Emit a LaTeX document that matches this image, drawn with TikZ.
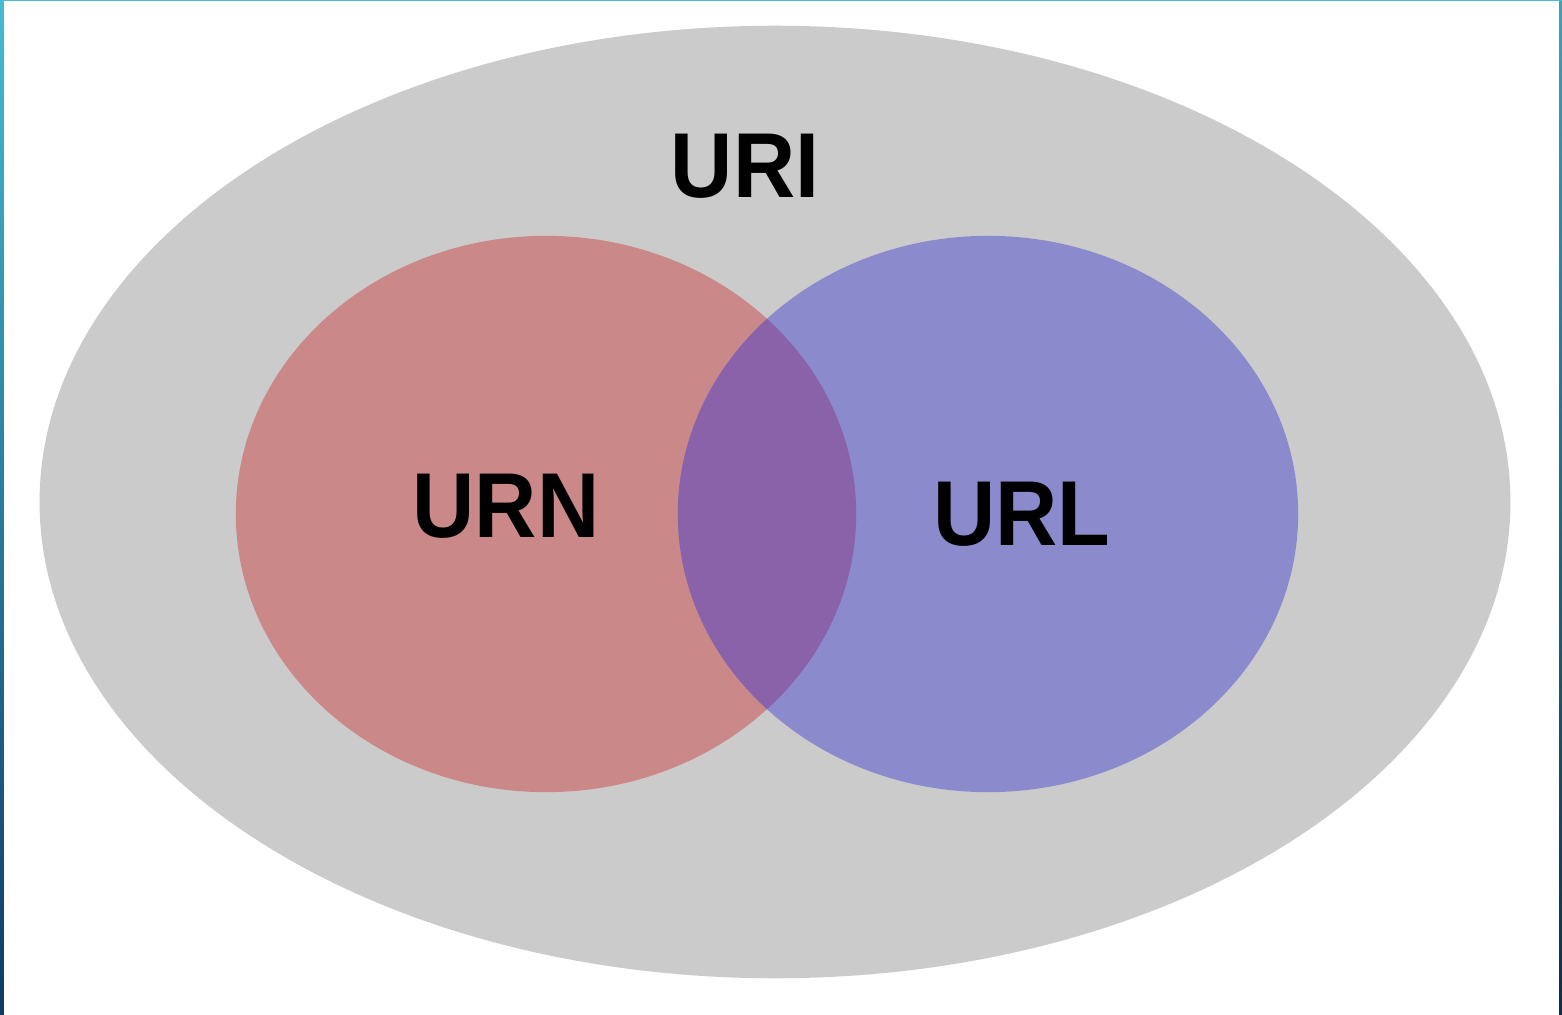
\documentclass[tikz,border=0pt]{standalone}
\usepackage{fontspec}
\setmainfont{Liberation Sans}
\usepackage{tikz}
\usetikzlibrary{backgrounds}

\definecolor{urigray}{HTML}{CBCBCB}
\definecolor{urnred}{HTML}{CB8888}
\definecolor{urlblue}{HTML}{8A8ACC}
\definecolor{bothpurple}{HTML}{8A62AA}
\definecolor{barlight}{HTML}{45BBD6}
\definecolor{bardark}{HTML}{0E3A66}
\newcommand{\setname}[1]{\scalebox{1}[1.07]{#1}}

\begin{document}
\begin{tikzpicture}[x=0.01cm,y=-0.01cm,every node/.style={font=\fontsize{24.5}{28}\selectfont\bfseries, text=black, inner sep=0pt, anchor=base},set/.style={x radius=3.1cm, y radius=2.78cm}]
	\useasboundingbox (0,0) rectangle (1562,1015);
	\fill[white] (0,0) rectangle (1562,1015);
	% frame of the slide
	\shade[top color=barlight, bottom color=bardark] (0,0) rectangle (4,1015);
	\shade[top color=barlight!80!bardark, bottom color=bardark!80!black] (1559,0) rectangle (1562,1015);
	\fill[barlight] (0,0) rectangle (1562,1.5);
	% sets
	\fill[urigray] (775,502) ellipse [x radius=7.35cm, y radius=4.76cm];
	\fill[urnred] (546,514) ellipse [set];
	\fill[urlblue] (988,514) ellipse [set];
	\begin{scope}
		\clip (546,514) ellipse [set];
		\fill[bothpurple] (988,514) ellipse [set];
	\end{scope}
	\node (uri) at (745,197) {\setname{URI}};
	\node (urn) at (506,537) {\setname{URN}};
	\node (url) at (1022,545) {\setname{URL}};
\end{tikzpicture}
\end{document}
